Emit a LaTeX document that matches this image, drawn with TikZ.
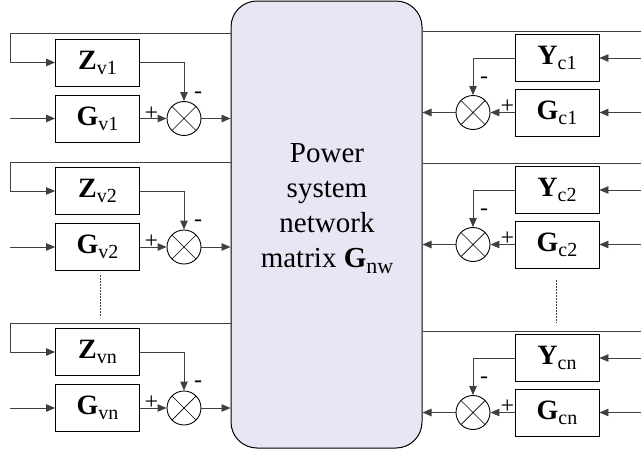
\documentclass[tikz,border=0pt]{standalone}
\usepackage{fontspec}
\setmainfont{Liberation Serif}
\usetikzlibrary{arrows.meta,calc}
\definecolor{lav}{HTML}{E8E5F4}
\tikzset{
 blk/.style={draw=black, line width=0.9pt, minimum width=84pt, minimum height=47pt, inner sep=0pt, font=\fontsize{28}{28}\selectfont},
 sumc/.style={draw=black, line width=0.9pt, circle, minimum size=34pt, inner sep=0pt,
   path picture={\draw[line width=0.7pt] (path picture bounding box.north west)--(path picture bounding box.south east) (path picture bounding box.north east)--(path picture bounding box.south west);}},
 wire/.style={draw=black!75, line width=0.9pt},
 arr/.style={wire, -{Triangle[length=9pt,width=7.5pt]}},
 sgn/.style={font=\fontsize{24}{24}\selectfont, inner sep=0pt},
 dots/.style={draw=black!75, line width=0.8pt, dash pattern=on 2pt off 1pt},
}
\newcommand{\blab}[2]{\textbf{#1}\raisebox{-5pt}{\fontsize{20}{20}\selectfont #2}}
\begin{document}
\begin{tikzpicture}[x=1pt,y=-1pt]
\useasboundingbox (0,0) rectangle (641,453);
\node[draw=black, line width=1pt, fill=lav, rounded corners=26pt, minimum width=191pt, minimum height=447pt, inner sep=0pt] (net) at (326.5,224.5) {};
\node[align=center, font=\fontsize{29}{35}\selectfont] (txt) at (327,209) {Power\\system\\network\\matrix \textbf{G}\raisebox{-6pt}{\fontsize{22}{22}\selectfont nw}};
% left column
\foreach \i/\d/\s in {1/0/1, 2/128.5/2, 3/289.5/n}{
  \node[blk] (Zv\i) at (97.5, 62.5+\d) {\blab{Z}{v\s}};
  \node[blk] (Gv\i) at (97.5, 118.5+\d) {\blab{G}{v\s}};
  \node[sumc] (Sv\i) at (184, 118.5+\d) {};
  \coordinate (fbL\i) at (10, 33.5+\d);
  \coordinate (inL\i) at (10, 118.5+\d);
  \draw[arr] (net.west |- fbL\i) -- (fbL\i) |- (Zv\i.west);
  \draw[arr] (inL\i) -- (Gv\i.west);
  \draw[arr] (Zv\i.east) -| (Sv\i.north);
  \draw[arr] (Gv\i.east) -- (Sv\i.west);
  \draw[arr] (Sv\i.east) -- (Sv\i.east -| net.west);
  \node[sgn] (pv\i) at (151.5,113.5+\d) {+};
  \node[sgn] (mv\i) at (198,95+\d) {-};
}
% right column
\foreach \i/\d/\s in {1/0/1, 2/132/2, 3/300/n}{
  \node[blk] (Yc\i) at (557, 58+\d) {\blab{Y}{c\s}};
  \node[blk] (Gc\i) at (557, 112.5+\d) {\blab{G}{c\s}};
  \node[sumc] (Sc\i) at (473, 112.5+\d) {};
  \coordinate (fbR\i) at (641, 31+\d);
  \coordinate (inY\i) at (641, 58+\d);
  \coordinate (inG\i) at (641, 112.5+\d);
  \draw[wire] (net.east |- fbR\i) -- (fbR\i);
  \draw[arr] (inY\i) -- (Yc\i.east);
  \draw[arr] (inG\i) -- (Gc\i.east);
  \draw[arr] (Yc\i.west) -| (Sc\i.north);
  \draw[arr] (Gc\i.west) -- (Sc\i.east);
  \draw[arr] (Sc\i.west) -- (Sc\i.west -| net.east);
  \node[sgn] (mc\i) at (484, 80+\d) {-};
  \node[sgn] (pc\i) at (507.5, 107+\d) {+};
}
\coordinate (dLa) at (100,275);
\coordinate (dLb) at (100,317);
\coordinate (dRa) at (556.5,280);
\coordinate (dRb) at (556.5,323);
\draw[dots] (dLa) -- (dLb);
\draw[dots] (dRa) -- (dRb);
\end{tikzpicture}
\end{document}
